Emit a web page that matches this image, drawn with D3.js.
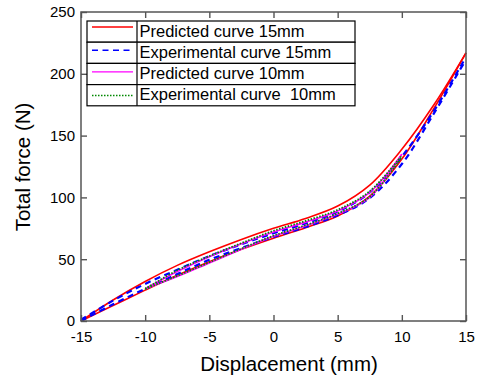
<!DOCTYPE html>
<html>
<head>
<meta charset="utf-8">
<script src="https://cdn.jsdelivr.net/npm/d3@7"></script>
<style>
  html, body { margin: 0; padding: 0; background: #fff; }
  svg { display: block; font-family: Arial, "Liberation Sans", sans-serif; }
</style>
</head>
<body>
<svg id="chart" width="478" height="377"></svg>
<script>
// ---- Data ----
const xTicks = [-15, -10, -5, 0, 5, 10, 15];
const yTicks = [0, 50, 100, 150, 200, 250];

// Predicted curve 15mm (red)
const pred15X = [-15, -12.5, -10, -7.5, -5, -2.5, 0, 2.5, 5, 7.5, 10, 12.5, 15];
const pred15UpperY = [0, 17, 32, 45, 56, 66, 75, 83, 93, 110, 139, 175, 217];
const pred15LowerY = [0, 12.5, 25, 37, 48, 58, 67, 75.5, 85, 101, 131, 172, 217];

// Experimental curve 15mm (blue dashed)
const exp15X = [-15, -12.5, -10, -7.5, -5, -2.5, 0, 2.5, 5, 7.5, 10, 12.5, 14.8];
const exp15UpperY = [1, 16.5, 30, 41.5, 52.5, 62, 71, 79, 88.5, 104, 133, 170, 210];
const exp15LowerY = [0, 13.5, 26, 38, 49.5, 59, 68, 76, 85.5, 99.5, 127, 168, 208];

// Predicted curve 10mm (magenta)
const pred10X = [-10, -7.5, -5, -2.5, 0, 2.5, 5, 7.5, 10];
const pred10UpperY = [26, 40, 52, 62.5, 72, 80, 89, 104, 135];
const pred10LowerY = [26, 36, 47, 58, 68.5, 77, 86.5, 100, 135];

// Experimental curve 10mm (green dotted)
const exp10X = [-10, -7.5, -5, -2.5, 0, 2.5, 5, 7.5, 10];
const exp10UpperY = [26, 41, 52.5, 63, 73, 81, 90, 105, 134];
const exp10LowerY = [26, 36.5, 47.5, 58.5, 69, 77.5, 87, 100.5, 133];

const legendLabels = ["Predicted curve 15mm", "Experimental curve 15mm", "Predicted curve 10mm", "Experimental curve  10mm"];

// ---- Layout ----
const L = 81, R = 466, T = 12, B = 321;
const svg = d3.select("#chart");
const x = d3.scaleLinear().domain([-15, 15]).range([L, R]);
const y = d3.scaleLinear().domain([0, 250]).range([B, T]);

const series = [
  { color: "#ff0000", width: 1.6, dash: null,
    branches: [[pred15X, pred15LowerY], [pred15X, pred15UpperY]] },
  { color: "#0000ff", width: 2.2, dash: "6,4.5",
    branches: [[exp15X, exp15LowerY], [exp15X, exp15UpperY]] },
  { color: "#ff00ff", width: 1.6, dash: null,
    branches: [[pred10X, pred10LowerY], [pred10X, pred10UpperY]] },
  { color: "#008800", width: 1.8, dash: "1.5,1.5",
    branches: [[exp10X, exp10LowerY], [exp10X, exp10UpperY]] }
];

const line = d3.line().x(d => x(d[0])).y(d => y(d[1])).curve(d3.curveCatmullRom.alpha(0.5));

series.forEach(s => {
  s.branches.forEach(([xs, ys]) => {
    svg.append("path")
      .datum(xs.map((v, i) => [v, ys[i]]))
      .attr("d", line)
      .attr("fill", "none")
      .attr("stroke", s.color)
      .attr("stroke-width", s.width)
      .attr("stroke-dasharray", s.dash);
  });
});

// ---- Axes ----
const axisColor = "#555";
const fmt = d => String(d);
function styleAxis(g) {
  g.select(".domain").remove();
  g.selectAll(".tick line").attr("stroke", axisColor).attr("stroke-width", 1.4);
  g.selectAll(".tick text").attr("fill", "#000").style("font-size", "15px")
    .style("font-family", "Arial, 'Liberation Sans', sans-serif");
}
svg.append("g").attr("transform", `translate(0,${B})`)
  .call(d3.axisBottom(x).tickValues(xTicks).tickFormat(fmt).tickSize(-6).tickPadding(10)).call(styleAxis);
svg.append("g").attr("transform", `translate(0,${T})`)
  .call(d3.axisTop(x).tickValues(xTicks).tickSize(-6).tickFormat("")).call(styleAxis);
svg.append("g").attr("transform", `translate(${L},0)`)
  .call(d3.axisLeft(y).tickValues(yTicks).tickFormat(fmt).tickSize(-6).tickPadding(6)).call(styleAxis);
svg.append("g").attr("transform", `translate(${R},0)`)
  .call(d3.axisRight(y).tickValues(yTicks).tickSize(-6).tickFormat("")).call(styleAxis);

svg.append("rect").attr("x", L).attr("y", T).attr("width", R - L).attr("height", B - T)
  .attr("fill", "none").attr("stroke", axisColor).attr("stroke-width", 1.5);

// ---- Titles ----
svg.append("text").attr("x", 289).attr("y", 371).attr("text-anchor", "middle")
  .style("font-size", "20.5px").text("Displacement (mm)");
svg.append("text").attr("transform", "translate(30,167) rotate(-90)").attr("text-anchor", "middle")
  .style("font-size", "20.5px").text("Total force (N)");

// ---- Legend ----
const lgX = 87, lgY = 21, lgW = 268, rowH = 21.2, divX = 137;
const lg = svg.append("g");
const lineOffsets = [6, 8, 8.5, 11];
legendLabels.forEach((lab, i) => {
  const ry = lgY + i * rowH;
  lg.append("rect").attr("x", lgX).attr("y", ry).attr("width", lgW).attr("height", rowH)
    .attr("fill", "#fff").attr("stroke", "#000").attr("stroke-width", 1.2);
  lg.append("line").attr("x1", divX).attr("x2", divX).attr("y1", ry).attr("y2", ry + rowH)
    .attr("stroke", "#000").attr("stroke-width", 1.2);
  const s = series[i];
  lg.append("line").attr("x1", 92).attr("x2", 133)
    .attr("y1", ry + lineOffsets[i]).attr("y2", ry + lineOffsets[i])
    .attr("stroke", s.color).attr("stroke-width", i === 1 ? 1.6 : (i === 3 ? 1.5 : 1.3))
    .attr("stroke-dasharray", s.dash);
  lg.append("text").attr("x", 139.5).attr("y", ry + 15.5)
    .style("font-size", "16.5px").style("white-space", "pre").attr("xml:space", "preserve").text(lab);
});
</script>
</body>
</html>
